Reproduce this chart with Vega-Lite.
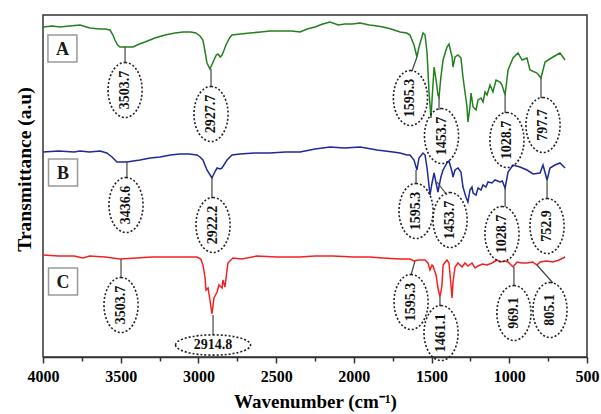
{
  "$schema": "https://vega.github.io/schema/vega-lite/v6.json",
  "width": 544,
  "height": 342,
  "autosize": "none",
  "padding": {"left": 43, "top": 15, "right": 14, "bottom": 57},
  "background": "white",
  "config": {
    "font": "Liberation Serif",
    "view": {"stroke": "#333333", "strokeWidth": 1.5}
  },
  "datasets": {
    "spectra": [
      {"s":"A","wn":4000,"T":330},{"s":"A","wn":3940,"T":331},{"s":"A","wn":3891,"T":330},{"s":"A","wn":3830,"T":331},{"s":"A","wn":3762,"T":332},{"s":"A","wn":3720,"T":330},{"s":"A","wn":3698,"T":329},{"s":"A","wn":3633,"T":328},{"s":"A","wn":3600,"T":328},{"s":"A","wn":3569,"T":327},{"s":"A","wn":3550,"T":322},{"s":"A","wn":3537,"T":317},{"s":"A","wn":3520,"T":312},{"s":"A","wn":3505,"T":310},{"s":"A","wn":3460,"T":310},{"s":"A","wn":3421,"T":310},{"s":"A","wn":3380,"T":313},{"s":"A","wn":3344,"T":315},{"s":"A","wn":3280,"T":319},{"s":"A","wn":3215,"T":322},{"s":"A","wn":3150,"T":324},{"s":"A","wn":3099,"T":325},{"s":"A","wn":3050,"T":325},{"s":"A","wn":3016,"T":324},{"s":"A","wn":2990,"T":321},{"s":"A","wn":2971,"T":317},{"s":"A","wn":2958,"T":306},{"s":"A","wn":2945,"T":294},{"s":"A","wn":2926,"T":288},{"s":"A","wn":2900,"T":297},{"s":"A","wn":2885,"T":302},{"s":"A","wn":2874,"T":303},{"s":"A","wn":2860,"T":300},{"s":"A","wn":2848,"T":302},{"s":"A","wn":2835,"T":307},{"s":"A","wn":2823,"T":312},{"s":"A","wn":2800,"T":319},{"s":"A","wn":2784,"T":322},{"s":"A","wn":2730,"T":323},{"s":"A","wn":2668,"T":324},{"s":"A","wn":2600,"T":325},{"s":"A","wn":2540,"T":326},{"s":"A","wn":2475,"T":326},{"s":"A","wn":2400,"T":326},{"s":"A","wn":2346,"T":325},{"s":"A","wn":2300,"T":328},{"s":"A","wn":2250,"T":330},{"s":"A","wn":2200,"T":333},{"s":"A","wn":2153,"T":335},{"s":"A","wn":2100,"T":332},{"s":"A","wn":2057,"T":333},{"s":"A","wn":2010,"T":333},{"s":"A","wn":1960,"T":334},{"s":"A","wn":1900,"T":332},{"s":"A","wn":1850,"T":331},{"s":"A","wn":1812,"T":330},{"s":"A","wn":1760,"T":328},{"s":"A","wn":1703,"T":325},{"s":"A","wn":1660,"T":324},{"s":"A","wn":1639,"T":322},{"s":"A","wn":1613,"T":312},{"s":"A","wn":1594,"T":300},{"s":"A","wn":1581,"T":310},{"s":"A","wn":1555,"T":324},{"s":"A","wn":1542,"T":322},{"s":"A","wn":1529,"T":304},{"s":"A","wn":1516,"T":264},{"s":"A","wn":1504,"T":239},{"s":"A","wn":1497,"T":257},{"s":"A","wn":1484,"T":290},{"s":"A","wn":1471,"T":277},{"s":"A","wn":1459,"T":262},{"s":"A","wn":1452,"T":260},{"s":"A","wn":1440,"T":280},{"s":"A","wn":1426,"T":297},{"s":"A","wn":1401,"T":310},{"s":"A","wn":1388,"T":313},{"s":"A","wn":1368,"T":300},{"s":"A","wn":1362,"T":290},{"s":"A","wn":1349,"T":300},{"s":"A","wn":1330,"T":302},{"s":"A","wn":1311,"T":299},{"s":"A","wn":1298,"T":280},{"s":"A","wn":1272,"T":250},{"s":"A","wn":1266,"T":235},{"s":"A","wn":1253,"T":250},{"s":"A","wn":1246,"T":264},{"s":"A","wn":1233,"T":250},{"s":"A","wn":1214,"T":247},{"s":"A","wn":1201,"T":257},{"s":"A","wn":1182,"T":259},{"s":"A","wn":1169,"T":255},{"s":"A","wn":1156,"T":265},{"s":"A","wn":1143,"T":262},{"s":"A","wn":1124,"T":272},{"s":"A","wn":1105,"T":265},{"s":"A","wn":1085,"T":277},{"s":"A","wn":1060,"T":275},{"s":"A","wn":1047,"T":272},{"s":"A","wn":1027,"T":262},{"s":"A","wn":1008,"T":287},{"s":"A","wn":976,"T":299},{"s":"A","wn":944,"T":304},{"s":"A","wn":918,"T":297},{"s":"A","wn":886,"T":299},{"s":"A","wn":867,"T":287},{"s":"A","wn":822,"T":284},{"s":"A","wn":796,"T":279},{"s":"A","wn":770,"T":295},{"s":"A","wn":719,"T":300},{"s":"A","wn":674,"T":304},{"s":"A","wn":641,"T":297},
      {"s":"B","wn":4000,"T":205},{"s":"B","wn":3900,"T":206},{"s":"B","wn":3800,"T":205},{"s":"B","wn":3762,"T":206},{"s":"B","wn":3700,"T":205},{"s":"B","wn":3633,"T":206},{"s":"B","wn":3590,"T":204},{"s":"B","wn":3556,"T":200},{"s":"B","wn":3524,"T":195},{"s":"B","wn":3490,"T":195},{"s":"B","wn":3460,"T":195},{"s":"B","wn":3420,"T":196},{"s":"B","wn":3376,"T":197},{"s":"B","wn":3310,"T":199},{"s":"B","wn":3247,"T":200},{"s":"B","wn":3180,"T":202},{"s":"B","wn":3119,"T":203},{"s":"B","wn":3060,"T":203},{"s":"B","wn":3009,"T":202},{"s":"B","wn":2990,"T":200},{"s":"B","wn":2971,"T":197},{"s":"B","wn":2945,"T":187},{"s":"B","wn":2913,"T":179},{"s":"B","wn":2895,"T":185},{"s":"B","wn":2880,"T":189},{"s":"B","wn":2860,"T":188},{"s":"B","wn":2848,"T":189},{"s":"B","wn":2816,"T":197},{"s":"B","wn":2784,"T":202},{"s":"B","wn":2733,"T":203},{"s":"B","wn":2640,"T":204},{"s":"B","wn":2540,"T":204},{"s":"B","wn":2440,"T":205},{"s":"B","wn":2346,"T":205},{"s":"B","wn":2250,"T":208},{"s":"B","wn":2153,"T":210},{"s":"B","wn":2060,"T":209},{"s":"B","wn":1960,"T":210},{"s":"B","wn":1850,"T":207},{"s":"B","wn":1748,"T":205},{"s":"B","wn":1703,"T":204},{"s":"B","wn":1658,"T":202},{"s":"B","wn":1639,"T":202},{"s":"B","wn":1613,"T":197},{"s":"B","wn":1594,"T":187},{"s":"B","wn":1581,"T":199},{"s":"B","wn":1555,"T":204},{"s":"B","wn":1542,"T":202},{"s":"B","wn":1529,"T":189},{"s":"B","wn":1510,"T":162},{"s":"B","wn":1497,"T":174},{"s":"B","wn":1484,"T":184},{"s":"B","wn":1471,"T":174},{"s":"B","wn":1459,"T":165},{"s":"B","wn":1440,"T":180},{"s":"B","wn":1426,"T":187},{"s":"B","wn":1401,"T":194},{"s":"B","wn":1388,"T":196},{"s":"B","wn":1368,"T":185},{"s":"B","wn":1362,"T":180},{"s":"B","wn":1349,"T":187},{"s":"B","wn":1330,"T":189},{"s":"B","wn":1311,"T":185},{"s":"B","wn":1298,"T":170},{"s":"B","wn":1279,"T":160},{"s":"B","wn":1266,"T":155},{"s":"B","wn":1253,"T":167},{"s":"B","wn":1240,"T":170},{"s":"B","wn":1233,"T":164},{"s":"B","wn":1214,"T":162},{"s":"B","wn":1201,"T":169},{"s":"B","wn":1182,"T":167},{"s":"B","wn":1169,"T":172},{"s":"B","wn":1150,"T":170},{"s":"B","wn":1137,"T":175},{"s":"B","wn":1111,"T":174},{"s":"B","wn":1092,"T":177},{"s":"B","wn":1060,"T":175},{"s":"B","wn":1045,"T":176},{"s":"B","wn":1027,"T":169},{"s":"B","wn":1008,"T":185},{"s":"B","wn":976,"T":192},{"s":"B","wn":931,"T":190},{"s":"B","wn":886,"T":187},{"s":"B","wn":847,"T":183},{"s":"B","wn":802,"T":184},{"s":"B","wn":783,"T":192},{"s":"B","wn":757,"T":177},{"s":"B","wn":738,"T":189},{"s":"B","wn":706,"T":192},{"s":"B","wn":674,"T":194},{"s":"B","wn":641,"T":189},
      {"s":"C","wn":4000,"T":102},{"s":"C","wn":3900,"T":101},{"s":"C","wn":3800,"T":101},{"s":"C","wn":3743,"T":99},{"s":"C","wn":3700,"T":101},{"s":"C","wn":3600,"T":100},{"s":"C","wn":3505,"T":98},{"s":"C","wn":3400,"T":99},{"s":"C","wn":3300,"T":100},{"s":"C","wn":3202,"T":100},{"s":"C","wn":3100,"T":100},{"s":"C","wn":3009,"T":100},{"s":"C","wn":2985,"T":98},{"s":"C","wn":2971,"T":92},{"s":"C","wn":2958,"T":80},{"s":"C","wn":2951,"T":67},{"s":"C","wn":2938,"T":69},{"s":"C","wn":2926,"T":57},{"s":"C","wn":2913,"T":43},{"s":"C","wn":2900,"T":59},{"s":"C","wn":2880,"T":65},{"s":"C","wn":2868,"T":72},{"s":"C","wn":2848,"T":69},{"s":"C","wn":2842,"T":77},{"s":"C","wn":2829,"T":70},{"s":"C","wn":2820,"T":82},{"s":"C","wn":2810,"T":94},{"s":"C","wn":2778,"T":99},{"s":"C","wn":2720,"T":98},{"s":"C","wn":2623,"T":101},{"s":"C","wn":2500,"T":100},{"s":"C","wn":2346,"T":100},{"s":"C","wn":2250,"T":101},{"s":"C","wn":2134,"T":101},{"s":"C","wn":2000,"T":100},{"s":"C","wn":1900,"T":100},{"s":"C","wn":1812,"T":99},{"s":"C","wn":1703,"T":98},{"s":"C","wn":1639,"T":98},{"s":"C","wn":1613,"T":96},{"s":"C","wn":1587,"T":97},{"s":"C","wn":1542,"T":97},{"s":"C","wn":1523,"T":94},{"s":"C","wn":1510,"T":87},{"s":"C","wn":1497,"T":92},{"s":"C","wn":1491,"T":91},{"s":"C","wn":1471,"T":82},{"s":"C","wn":1459,"T":69},{"s":"C","wn":1446,"T":60},{"s":"C","wn":1433,"T":72},{"s":"C","wn":1426,"T":92},{"s":"C","wn":1401,"T":97},{"s":"C","wn":1388,"T":94},{"s":"C","wn":1375,"T":72},{"s":"C","wn":1368,"T":59},{"s":"C","wn":1362,"T":75},{"s":"C","wn":1349,"T":90},{"s":"C","wn":1330,"T":94},{"s":"C","wn":1304,"T":90},{"s":"C","wn":1285,"T":94},{"s":"C","wn":1266,"T":91},{"s":"C","wn":1240,"T":94},{"s":"C","wn":1220,"T":89},{"s":"C","wn":1201,"T":91},{"s":"C","wn":1175,"T":93},{"s":"C","wn":1143,"T":92},{"s":"C","wn":1111,"T":94},{"s":"C","wn":1079,"T":97},{"s":"C","wn":1060,"T":95},{"s":"C","wn":1030,"T":96},{"s":"C","wn":1008,"T":95},{"s":"C","wn":976,"T":90},{"s":"C","wn":950,"T":95},{"s":"C","wn":920,"T":94},{"s":"C","wn":886,"T":94},{"s":"C","wn":850,"T":95},{"s":"C","wn":822,"T":92},{"s":"C","wn":802,"T":95},{"s":"C","wn":760,"T":96},{"s":"C","wn":719,"T":95},{"s":"C","wn":680,"T":97},{"s":"C","wn":654,"T":99},{"s":"C","wn":641,"T":100}
    ],
    "conn": [
      {"wn":3472,"T":310,"wn2":3472,"T2":294},
      {"wn":2919,"T":288,"wn2":2919,"T2":270},
      {"wn":1594,"T":300,"wn2":1626,"T2":286},
      {"wn":1452,"T":260,"wn2":1452,"T2":247},
      {"wn":1027,"T":262,"wn2":1027,"T2":244},
      {"wn":796,"T":279,"wn2":796,"T2":259},
      {"wn":3460,"T":195,"wn2":3460,"T2":179},
      {"wn":2913,"T":179,"wn2":2913,"T2":159},
      {"wn":1600,"T":187,"wn2":1600,"T2":173},
      {"wn":1465,"T":175,"wn2":1401,"T2":162},
      {"wn":1027,"T":169,"wn2":1027,"T2":150},
      {"wn":757,"T":177,"wn2":757,"T2":158},
      {"wn":3498,"T":98,"wn2":3498,"T2":79},
      {"wn":2906,"T":42,"wn2":2906,"T2":22},
      {"wn":1607,"T":96,"wn2":1632,"T2":82},
      {"wn":1446,"T":60,"wn2":1446,"T2":51},
      {"wn":970,"T":90,"wn2":970,"T2":71},
      {"wn":822,"T":92,"wn2":719,"T2":74}
    ],
    "ann": [
      {"label":"3503.7","wn":3472,"T":267},
      {"label":"2927.7","wn":2919,"T":243},
      {"label":"1595.3","wn":1636,"T":259},
      {"label":"1453.7","wn":1436,"T":221},
      {"label":"1028.7","wn":1015,"T":217},
      {"label":"797.7","wn":783,"T":232},
      {"label":"3436.6","wn":3466,"T":152},
      {"label":"2922.2","wn":2906,"T":132},
      {"label":"1595.3","wn":1600,"T":146},
      {"label":"1453.7","wn":1381,"T":137},
      {"label":"1028.7","wn":1047,"T":123},
      {"label":"752.9","wn":757,"T":131},
      {"label":"3503.7","wn":3498,"T":52},
      {"label":"2914.8","wn":2906,"T":12},
      {"label":"1595.3","wn":1632,"T":55},
      {"label":"1461.1","wn":1439,"T":24},
      {"label":"969.1","wn":970,"T":44},
      {"label":"805.1","wn":738,"T":47}
    ],
    "boxes": [
      {"label":"A","wn":3875,"T":308.5},
      {"label":"B","wn":3871,"T":184.5},
      {"label":"C","wn":3871,"T":75.5}
    ]
  },
  "encoding": {
    "x": {
      "field": "wn", "type": "quantitative",
      "scale": {"domain": [4000, 500], "nice": false, "zero": false},
      "axis": {
        "title": "Wavenumber (cm⁻¹)",
        "titleFontSize": 19, "titleFontWeight": "bold", "titleColor": "#000",
        "titlePadding": 8,
        "values": [4000,3750,3500,3250,3000,2750,2500,2250,2000,1750,1500,1250,1000,750,500],
        "labelExpr": "datum.value % 500 === 0 ? format(datum.value, 'd') : ''",
        "labelFontSize": 16, "labelFontWeight": "bold", "labelColor": "#000",
        "labelPadding": 5, "labelOverlap": false, "labelFlush": false,
        "tickSize": {"condition": {"test": "datum.value % 500 === 0", "value": 6}, "value": 4},
        "tickColor": "#333", "tickWidth": 1.5,
        "domainColor": "#333", "domainWidth": 1.5,
        "grid": false
      }
    },
    "y": {
      "field": "T", "type": "quantitative",
      "scale": {"domain": [0, 342], "nice": false, "zero": false},
      "axis": {
        "title": "Transmittance (a.u)",
        "titleFontSize": 19.5, "titleFontWeight": "bold", "titleColor": "#000",
        "titlePadding": 9, "titleY": 154,
        "labels": false, "ticks": false, "domain": false, "grid": false
      }
    }
  },
  "layer": [
    {
      "data": {"name": "spectra"},
      "mark": {"type": "line", "strokeWidth": 1.5},
      "encoding": {
        "color": {
          "field": "s", "type": "nominal",
          "scale": {"domain": ["A", "B", "C"], "range": ["#23801f", "#1c2a9a", "#f52020"]},
          "legend": null
        }
      }
    },
    {
      "data": {"name": "conn"},
      "mark": {"type": "rule", "color": "#444", "strokeWidth": 1.2},
      "encoding": {
        "x2": {"field": "wn2"},
        "y2": {"field": "T2"}
      }
    },
    {
      "data": {"name": "ann"},
      "transform": [{"filter": "datum.label !== '2914.8'"}],
      "mark": {
        "type": "point",
        "shape": "M 0 -1 C 0.342 -1 0.62 -0.552 0.62 0 C 0.62 0.552 0.342 1 0 1 C -0.342 1 -0.62 0.552 -0.62 0 C -0.62 -0.552 -0.342 -1 0 -1 Z",
        "size": 3025, "filled": false, "stroke": "#222", "strokeWidth": 1.6, "strokeDash": [2, 2], "opacity": 1
      }
    },
    {
      "data": {"name": "ann"},
      "transform": [{"filter": "datum.label === '2914.8'"}],
      "mark": {
        "type": "point",
        "shape": "M -1 0 C -1 -0.149 -0.552 -0.27 0 -0.27 C 0.552 -0.27 1 -0.149 1 0 C 1 0.149 0.552 0.27 0 0.27 C -0.552 0.27 -1 0.149 -1 0 Z",
        "size": 5625, "filled": false, "stroke": "#222", "strokeWidth": 1.6, "strokeDash": [2, 2], "opacity": 1
      }
    },
    {
      "data": {"name": "ann"},
      "transform": [{"filter": "datum.label !== '2914.8'"}],
      "mark": {"type": "text", "angle": 270, "align": "center", "baseline": "middle", "fontSize": 14, "fontWeight": "bold", "color": "#111"},
      "encoding": {"text": {"field": "label"}}
    },
    {
      "data": {"name": "ann"},
      "transform": [{"filter": "datum.label === '2914.8'"}],
      "mark": {"type": "text", "align": "center", "baseline": "middle", "fontSize": 14, "fontWeight": "bold", "color": "#111"},
      "encoding": {"text": {"field": "label"}}
    },
    {
      "data": {"name": "boxes"},
      "mark": {
        "type": "point",
        "shape": "M -1 -0.93 H 1 V 0.93 H -1 Z",
        "size": 841, "filled": true, "fill": "white", "stroke": "#999", "strokeWidth": 1.5, "opacity": 1
      }
    },
    {
      "data": {"name": "boxes"},
      "mark": {"type": "text", "align": "center", "baseline": "middle", "fontSize": 18, "fontWeight": "bold", "color": "#1a1a1a", "dy": 1},
      "encoding": {"text": {"field": "label"}}
    }
  ]
}
